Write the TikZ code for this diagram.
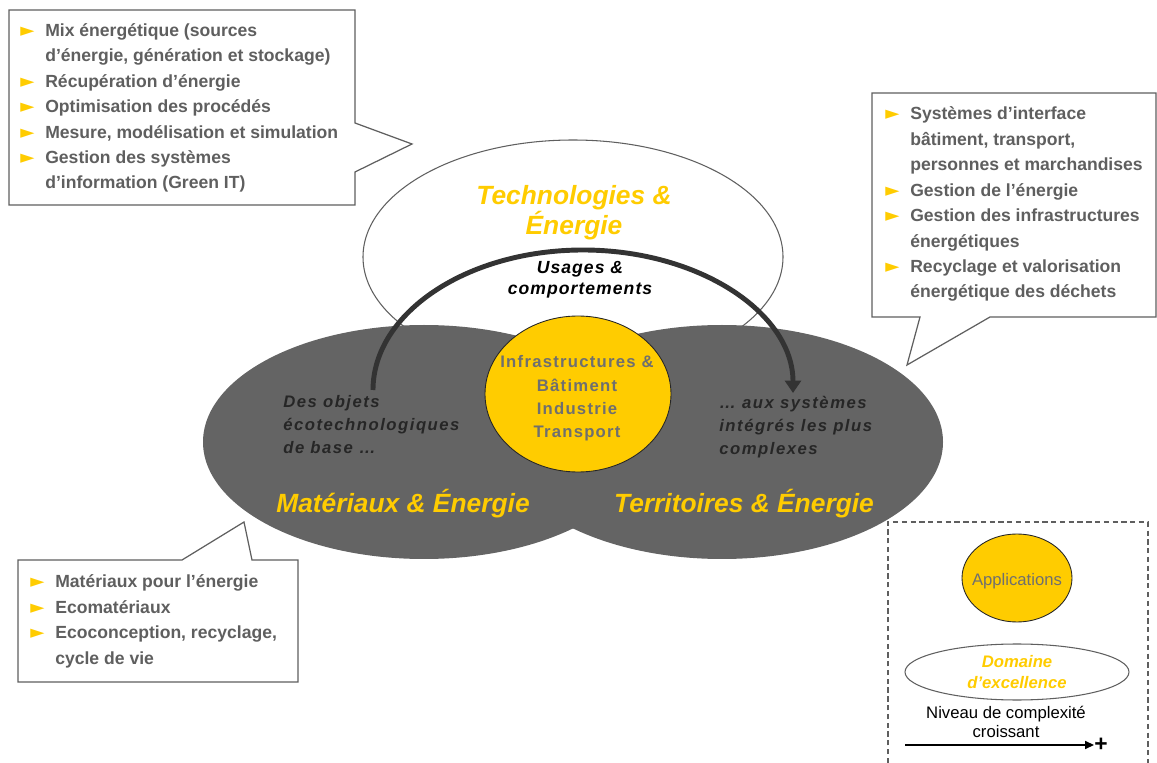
\documentclass[tikz,border=0pt]{standalone}
\usepackage{fontspec}
\setmainfont{Liberation Sans}
\newfontfamily\symb{DejaVu Sans}
\usepackage{xcolor}
\usetikzlibrary{arrows.meta}

\definecolor{boxgray}{HTML}{5F5F5F}
\definecolor{discgray}{HTML}{646464}
\definecolor{gold}{HTML}{FFCC00}
\definecolor{inktext}{HTML}{262626}
\definecolor{arcgray}{HTML}{333333}

% yellow pointer in front of each item, and the indent of wrapped lines
\newcommand{\puce}{\makebox[14.2pt][l]{\textcolor{gold}{\symb\fontsize{10.5}{10.5}\selectfont ►}}}
\newcommand{\suite}{\hspace*{14.2pt}}

\begin{document}
\begin{tikzpicture}[x=0.02cm, y=-0.02cm,
  outline/.style={draw=boxgray, line width=0.7pt, fill=white},
  % multi-line nodes are placed by the baseline of their last line
  itemlist/.style={anchor=base west, align=left, inner sep=0pt, text=boxgray,
    font=\bfseries\fontsize{10}{14.5}\selectfont},
  domainlabel/.style={anchor=base, align=center, inner sep=0pt, text=gold,
    font=\bfseries\itshape\fontsize{15}{17.6}\selectfont},
  remark/.style={anchor=base west, align=left, inner sep=0pt, text=inktext,
    font=\bfseries\itshape\fontsize{9.5}{13.3}\selectfont\addfontfeature{LetterSpace=9}},
  legendtext/.style={anchor=base, align=center, inner sep=0pt,
    font=\fontsize{9.5}{10.5}\selectfont}]

  \useasboundingbox (0,0) rectangle (1157,763);

  % Technologies: white ellipse at the back
  \filldraw[fill=white, draw=boxgray, line width=0.6pt] (573,257) ellipse [x radius=210, y radius=117];

  % Materiaux and Territoires: the two grey ellipses
  \fill[discgray] (424,442) ellipse [x radius=221, y radius=117];
  \fill[discgray] (722,442) ellipse [x radius=221, y radius=117];

  % Applications in the middle
  \filldraw[fill=gold, draw=inktext, line width=0.5pt] (578,394) ellipse [x radius=93, y radius=78];

  % labels of the three domains
  \node[domainlabel] (techlabel) at (574,235) {Technologies \&\\Énergie};
  \node[domainlabel] (matlabel) at (403,513) {Matériaux \& Énergie};
  \node[domainlabel] (terrlabel) at (744,513) {Territoires \& Énergie};

  \node[anchor=base, align=center, inner sep=0pt, text=boxgray!90,
    font=\bfseries\fontsize{9.5}{13.3}\selectfont\addfontfeature{LetterSpace=7.5}]
    (infra) at (577,438) {Infrastructures \&\\Bâtiment\\Industrie\\Transport};

  \node[remark] (objets) at (283,454) {Des objets\\écotechnologiques\\de base …};
  \node[remark] (systemes) at (719,455) {… aux systèmes\\intégrés les plus\\complexes};

  % from the basic objects to the integrated systems
  \coordinate (arcstart) at (373,390);
  \coordinate (arcend) at (793,393);
  \draw[arcgray, line width=2.8pt, -{Triangle[length=7pt, width=9pt]}]
    (arcstart) .. controls (373,313) and (467,250) .. (583,250)
               .. controls (699,250) and (793,313) .. (arcend);
  \node[anchor=base, align=center, inner sep=0pt, text=black,
    font=\bfseries\itshape\fontsize{10}{12}\selectfont\addfontfeature{LetterSpace=6}]
    (usages) at (580,295) {Usages \&\\comportements};

  % callout boxes
  \draw[outline] (9,10) -- (355,10) -- (355,123) -- (412,144) -- (355,172)
    -- (355,205) -- (9,205) -- cycle;
  \node[itemlist] (techlist) at (20,189) {\puce Mix énergétique (sources\\
    \suite d’énergie, génération et stockage)\\
    \puce Récupération d’énergie\\
    \puce Optimisation des procédés\\
    \puce Mesure, modélisation et simulation\\
    \puce Gestion des systèmes\\
    \suite d’information (Green IT)};

  \draw[outline] (872,93) -- (1156,93) -- (1156,317) -- (990,317) -- (907,365)
    -- (920,317) -- (872,317) -- cycle;
  \node[itemlist] (terrlist) at (885,298) {\puce Systèmes d’interface\\
    \suite bâtiment, transport,\\
    \suite personnes et marchandises\\
    \puce Gestion de l’énergie\\
    \puce Gestion des infrastructures\\
    \suite énergétiques\\
    \puce Recyclage et valorisation\\
    \suite énergétique des déchets};

  \draw[outline] (18,560) -- (182,560) -- (244,522) -- (252,560) -- (298,560)
    -- (298,682) -- (18,682) -- cycle;
  \node[itemlist] (matlist) at (30,664) {\puce Matériaux pour l’énergie\\
    \puce Ecomatériaux\\
    \puce Ecoconception, recyclage,\\
    \suite cycle de vie};

  % legend
  \draw[boxgray, line width=0.7pt, dash pattern=on 3pt off 2pt]
    (888,763) -- (888,522) -- (1148,522) -- (1148,763);
  \filldraw[fill=gold, draw=inktext, line width=0.5pt] (1017,578) ellipse [x radius=55, y radius=44];
  \node[legendtext, text=boxgray!90] (legapps) at (1017,585) {Applications};
  \filldraw[fill=white, draw=boxgray, line width=0.6pt] (1017,672) ellipse [x radius=112, y radius=28];
  \node[legendtext, text=gold, font=\bfseries\itshape\fontsize{9.5}{11.4}\selectfont]
    (legdomain) at (1017,688) {Domaine\\d’excellence};
  \node[legendtext] (legniveau) at (1006,737) {Niveau de complexité\\croissant};
  \coordinate (legstart) at (905,745);
  \node[anchor=west, inner sep=0pt, font=\bfseries\fontsize{13}{13}\selectfont] (plus) at (1094,745) {+};
  \draw[line width=0.8pt, -{Triangle[length=5pt, width=4.5pt]}] (legstart) -- (plus.west);

\end{tikzpicture}
\end{document}
